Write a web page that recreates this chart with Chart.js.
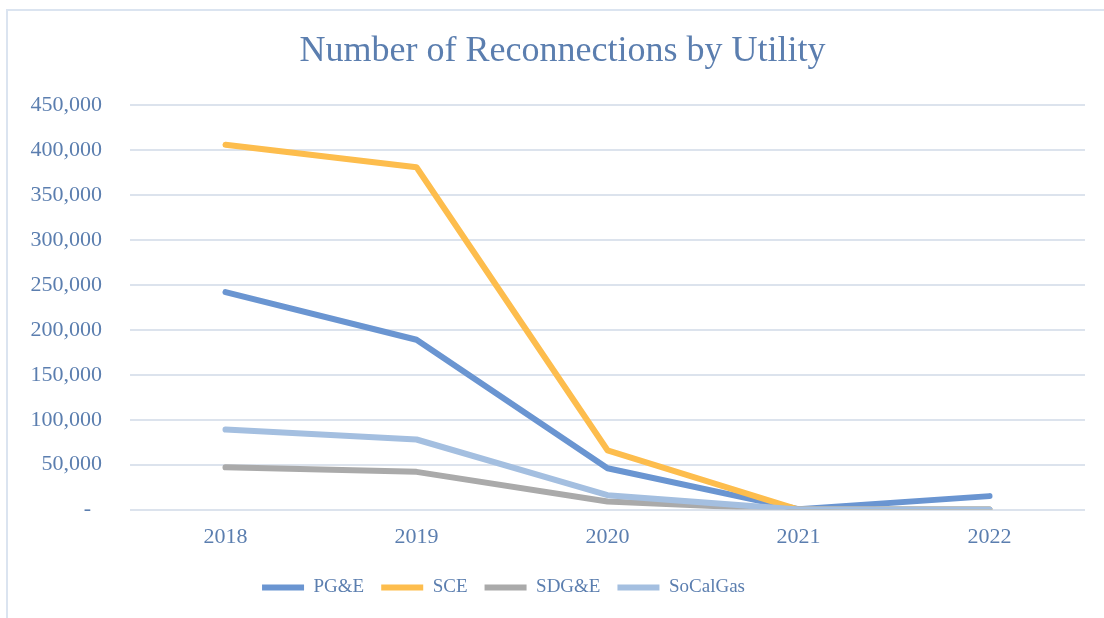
<!DOCTYPE html>
<html>
<head>
<meta charset="utf-8">
<script src="https://cdn.jsdelivr.net/npm/chart.js@4"></script>
<style>
  html, body { margin: 0; padding: 0; background: #fff; overflow: hidden; }
  #frame { position: absolute; left: 6px; top: 9px; width: 1200px; height: 700px; border: 2px solid #dbe4f0; box-sizing: border-box; }
  #wrap { position: absolute; left: 0; top: 0; width: 1104px; height: 618px; }
</style>
</head>
<body>
<div id="frame"></div>
<div id="wrap"><canvas id="reconChart"></canvas></div>
<script>
// years on the x axis
const years = ['2018', '2019', '2020', '2021', '2022'];

// reconnections per utility
const pge = [242000, 189000, 46000, 500, 15000];
const sce = [406000, 381000, 66000, 0, 0];
const sdge = [47000, 42000, 9000, 0, 0];
const socalgas = [89000, 78000, 16000, 0, 0];

const seriesNames = ['PG&E', 'SCE', 'SDG&E', 'SoCalGas'];
const seriesColors = ['#6a95d1', '#fdbd4d', '#aaaaaa', '#a4bfe0'];

const textColor = '#5b7eaf';
const gridColor = '#dce3ed';
const fontFamily = "'Liberation Serif', 'DejaVu Serif', serif";

const ctx = document.getElementById('reconChart').getContext('2d');

// build the datasets from the arrays above
const allData = [pge, sce, sdge, socalgas];
const datasets = allData.map((vals, i) => ({
  label: seriesNames[i],
  data: vals,
  borderColor: seriesColors[i],
  backgroundColor: seriesColors[i],
  borderWidth: 6,
  pointRadius: 0,
  borderCapStyle: 'round',
  borderJoinStyle: 'round',
  tension: 0,
  fill: false,
  order: 4 - i   // SoCalGas drawn on top like the picture
}));

// in the picture the title sits right of centre and the legend left of it
const nudgeBlocks = {
  id: 'nudgeBlocks',
  afterLayout(chart) {
    const lg = chart.legend;
    if (lg) { lg.left -= 40; lg.right -= 40; }
    const tb = chart.titleBlock;
    if (tb) { tb.left += 19; tb.right += 19; }
  }
};

const chart = new Chart(ctx, {
  type: 'line',
  data: {
    labels: years,
    datasets: datasets
  },
  plugins: [nudgeBlocks],
  options: {
    responsive: true,
    maintainAspectRatio: false,
    animation: false,
    layout: {
      padding: { left: 2, right: 19, top: 22, bottom: 11 }
    },
    scales: {
      x: {
        offset: true,
        grid: { display: false },
        border: { display: false },
        afterFit: (scale) => { scale.height += 5; },
        ticks: {
          color: textColor,
          padding: 6,
          font: { family: fontFamily, size: 22 }
        }
      },
      y: {
        min: 0,
        max: 450000,
        grid: { color: gridColor, lineWidth: 2, drawTicks: false },
        border: { display: false },
        afterFit: (scale) => { scale.width = 128; },
        ticks: {
          stepSize: 50000,
          color: textColor,
          padding: 28,
          font: { family: fontFamily, size: 22 },
          // zero is shown as a dash, accounting style
          callback: (value) => value === 0 ? '-  ' : value.toLocaleString('en-US')
        }
      }
    },
    plugins: {
      title: {
        display: true,
        text: 'Number of Reconnections by Utility',
        color: textColor,
        font: { family: fontFamily, size: 36, weight: 'normal' },
        padding: { top: 8, bottom: 32 }
      },
      legend: {
        position: 'bottom',
        labels: {
          color: textColor,
          font: { family: fontFamily, size: 19 },
          boxWidth: 42,
          boxHeight: 6,
          padding: 17,
          generateLabels: (c) => c.data.datasets.map((d, i) => ({
            text: d.label,
            fillStyle: d.borderColor,
            strokeStyle: d.borderColor,
            lineWidth: 0,
            fontColor: textColor,
            datasetIndex: i,
            hidden: false
          }))
        }
      },
      tooltip: { enabled: false }
    }
  }
});
</script>
</body>
</html>
